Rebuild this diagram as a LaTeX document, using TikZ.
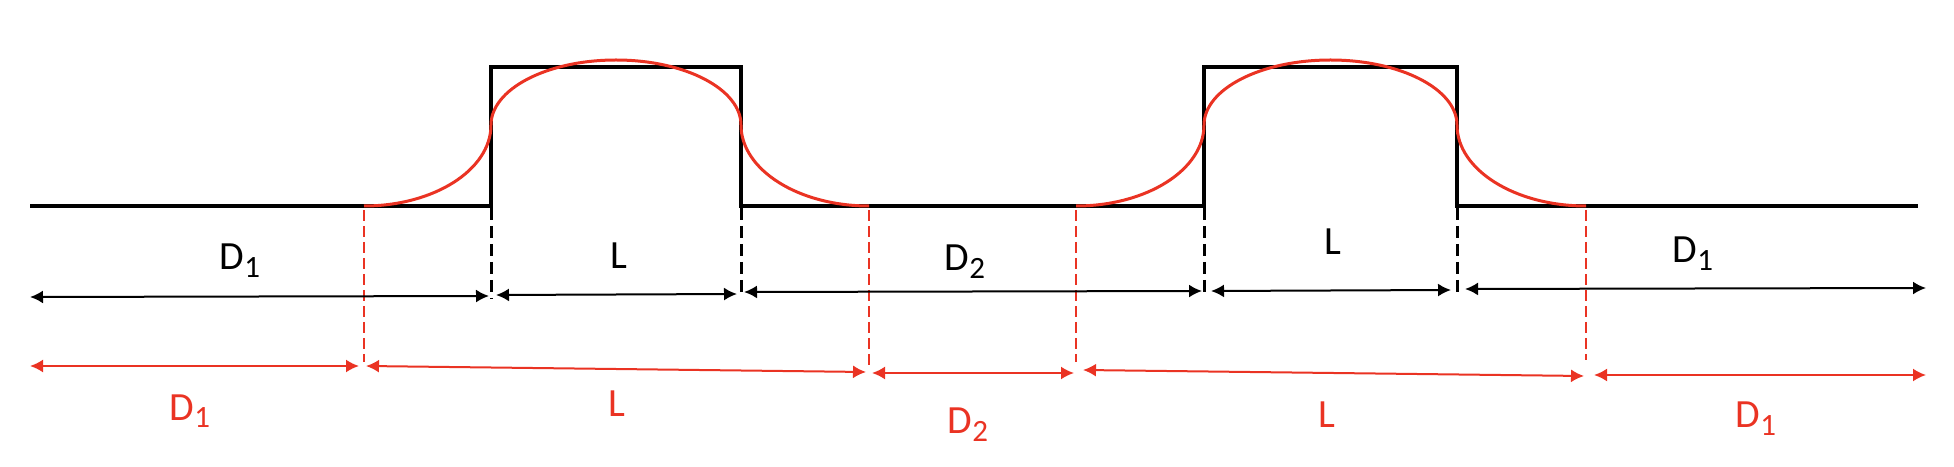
\documentclass[tikz,border=0pt]{standalone}
\usepackage{fontspec}
\setmainfont{Carlito}
\usepackage{tikz}
\usetikzlibrary{arrows.meta}
\definecolor{pulsered}{RGB}{234,51,35}
\newcommand{\lowidx}[1]{\raisebox{-8pt}{\fontsize{31}{36}\selectfont #1}}
\tikzset{
	wave/.style={line width=4pt},
	smooth wave/.style={pulsered, line width=3pt},
	guide/.style={line width=3pt, dash pattern=on 12pt off 6pt},
	red guide/.style={pulsered, line width=2.5pt, dash pattern=on 11pt off 5pt},
	span/.style={{Latex[length=13pt,width=13pt]}-{Latex[length=13pt,width=13pt]}, line width=2pt},
	red span/.style={span, pulsered},
	lbl/.style={anchor=base, inner sep=0pt, font=\fontsize{40}{48}\selectfont},
	red lbl/.style={lbl, text=pulsered}
}

\begin{document}
\begin{tikzpicture}[x=1pt,y=1pt]
		\useasboundingbox (0,0) rectangle (1954,466);

		\draw [wave] (30,260) -- (491,260) -- (491,399) -- (741,399) -- (741,260) -- (1204,260) -- (1204,399) -- (1457,399) -- (1457,260) -- (1918,260);

		\draw [smooth wave] (364,260) arc [start angle=-90, end angle=0, x radius=127, y radius=81]
			arc [start angle=180, end angle=0, x radius=125, y radius=65]
			arc [start angle=180, end angle=270, x radius=128, y radius=81];
		\draw [smooth wave] (1076,260) arc [start angle=-90, end angle=0, x radius=128, y radius=81]
			arc [start angle=180, end angle=0, x radius=126.5, y radius=65]
			arc [start angle=180, end angle=270, x radius=129, y radius=81];

		\draw [guide] (491,258) -- (491,167);
		\draw [guide] (741,258) -- (741,171);
		\draw [guide] (1204,258) -- (1204,170);
		\draw [guide] (1457,258) -- (1457,173);

		\draw [red guide] (364,256) -- (364,104);
		\draw [red guide] (869,256) -- (869,101);
		\draw [red guide] (1076,256) -- (1076,104);
		\draw [red guide] (1586,256) -- (1586,106);

		\coordinate (b0) at (30,169);
		\coordinate (b1) at (489,170);
		\coordinate (b2) at (496,171);
		\coordinate (b3) at (737,172);
		\coordinate (b4) at (744,174);
		\coordinate (b5) at (1202,175);
		\coordinate (b6) at (1211,175);
		\coordinate (b7) at (1451,176);
		\coordinate (b8) at (1465,177);
		\coordinate (b9) at (1926,178);

		\coordinate (r0) at (30,100);
		\coordinate (r1) at (359,100);
		\coordinate (r2) at (366,100);
		\coordinate (r3) at (866,94);
		\coordinate (r4) at (872,93);
		\coordinate (r5) at (1074,93);
		\coordinate (r6) at (1083,96);
		\coordinate (r7) at (1584,90);
		\coordinate (r8) at (1594,91);
		\coordinate (r9) at (1926,91);

		\draw [span] (b0) -- (b1);
		\draw [span] (b2) -- (b3);
		\draw [span] (b4) -- (b5);
		\draw [span] (b6) -- (b7);
		\draw [span] (b8) -- (b9);

		\draw [red span] (r0) -- (r1);
		\draw [red span] (r2) -- (r3);
		\draw [red span] (r4) -- (r5);
		\draw [red span] (r6) -- (r7);
		\draw [red span] (r8) -- (r9);

		\node[lbl] (d1a) at (240,196) {D\lowidx{1}};
		\node[lbl] (la) at (619,197) {L};
		\node[lbl] (d2a) at (965,195) {D\lowidx{2}};
		\node[lbl] (lb) at (1333,211) {L};
		\node[lbl] (d1b) at (1693,203) {D\lowidx{1}};

		\node[red lbl] (d1c) at (190,46) {D\lowidx{1}};
		\node[red lbl] (lc) at (617,49) {L};
		\node[red lbl] (d2c) at (968,33) {D\lowidx{2}};
		\node[red lbl] (ld) at (1327,39) {L};
		\node[red lbl] (d1d) at (1756,38) {D\lowidx{1}};
	\end{tikzpicture}
\end{document}
